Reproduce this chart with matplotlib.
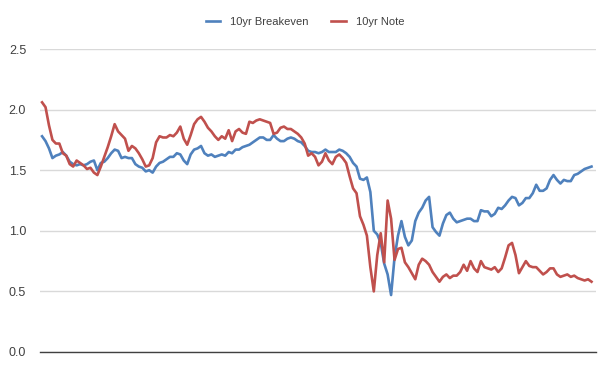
import matplotlib
matplotlib.use("Agg")
import matplotlib.pyplot as plt

series_names = ["10yr Breakeven", "10yr Note"]

breakeven = [1.78, 1.74, 1.68, 1.60, 1.62, 1.63, 1.65, 1.62, 1.57, 1.55,
             1.54, 1.55, 1.54, 1.55, 1.57, 1.58, 1.50, 1.56, 1.57, 1.60,
             1.64, 1.67, 1.66, 1.60, 1.61, 1.60, 1.60, 1.55, 1.53, 1.52,
             1.49, 1.50, 1.48, 1.53, 1.56, 1.57, 1.59, 1.61, 1.61, 1.64,
             1.63, 1.58, 1.55, 1.63, 1.67, 1.68, 1.70, 1.64, 1.62, 1.63,
             1.61, 1.62, 1.63, 1.62, 1.65, 1.64, 1.67, 1.67, 1.69, 1.70,
             1.71, 1.73, 1.75, 1.77, 1.77, 1.75, 1.75, 1.79, 1.76, 1.74,
             1.74, 1.76, 1.77, 1.76, 1.74, 1.73, 1.70, 1.66, 1.65, 1.65,
             1.64, 1.65, 1.67, 1.65, 1.65, 1.65, 1.67, 1.66, 1.64, 1.61,
             1.56, 1.53, 1.43, 1.42, 1.44, 1.32, 1.00, 0.97, 0.90, 0.73,
             0.64, 0.47, 0.78, 0.96, 1.08, 0.95, 0.88, 0.92, 1.08, 1.15,
             1.19, 1.25, 1.28, 1.03, 0.99, 0.96, 1.06, 1.13, 1.15, 1.10,
             1.07, 1.08, 1.09, 1.10, 1.10, 1.08, 1.08, 1.17, 1.16, 1.16,
             1.12, 1.14, 1.19, 1.18, 1.21, 1.25, 1.28, 1.27, 1.21, 1.23,
             1.27, 1.27, 1.31, 1.38, 1.33, 1.33, 1.35, 1.42, 1.46, 1.42,
             1.39, 1.42, 1.41, 1.41, 1.46, 1.47, 1.49, 1.51, 1.52, 1.53]

note = [2.06, 2.02, 1.87, 1.75, 1.72, 1.72, 1.64, 1.62, 1.55, 1.53,
        1.58, 1.56, 1.54, 1.51, 1.52, 1.48, 1.46, 1.53, 1.61, 1.69,
        1.78, 1.88, 1.82, 1.79, 1.76, 1.66, 1.70, 1.68, 1.64, 1.59,
        1.53, 1.54, 1.60, 1.73, 1.78, 1.77, 1.77, 1.79, 1.78, 1.81,
        1.86, 1.76, 1.71, 1.79, 1.88, 1.92, 1.94, 1.90, 1.85, 1.82,
        1.78, 1.75, 1.78, 1.76, 1.83, 1.74, 1.82, 1.84, 1.81, 1.80,
        1.90, 1.89, 1.91, 1.92, 1.91, 1.90, 1.89, 1.80, 1.81, 1.85,
        1.86, 1.84, 1.84, 1.82, 1.80, 1.77, 1.72, 1.62, 1.64, 1.61,
        1.54, 1.57, 1.64, 1.58, 1.55, 1.61, 1.63, 1.60, 1.56, 1.45,
        1.35, 1.31, 1.12, 1.05, 0.96, 0.70, 0.50, 0.80, 0.98, 0.74,
        1.25, 1.10, 0.76, 0.85, 0.86, 0.74, 0.70, 0.65, 0.60, 0.72,
        0.77, 0.75, 0.72, 0.66, 0.62, 0.58, 0.62, 0.64, 0.61, 0.63,
        0.63, 0.66, 0.72, 0.67, 0.75, 0.69, 0.66, 0.75, 0.70, 0.69,
        0.68, 0.70, 0.66, 0.69, 0.78, 0.88, 0.90, 0.80, 0.65, 0.70,
        0.75, 0.71, 0.70, 0.70, 0.67, 0.64, 0.66, 0.69, 0.69, 0.64,
        0.62, 0.63, 0.64, 0.62, 0.63, 0.61, 0.60, 0.59, 0.60, 0.58]

y_ticks = [0.0, 0.5, 1.0, 1.5, 2.0, 2.5]
y_tick_labels = ["0.0", "0.5", "1.0", "1.5", "2.0", "2.5"]

plt.rcParams['font.family'] = ['Liberation Sans', 'DejaVu Sans']

fig = plt.figure(figsize=(6.1, 3.7), dpi=100)
ax = fig.add_axes([40 / 610, 1 - 352 / 370, 556 / 610, (352 - 49) / 370])

x = list(range(len(breakeven)))
ax.plot(x, breakeven, color="#4F81BD", lw=1.9, label=series_names[0],
        solid_joinstyle="round", zorder=3)
ax.plot(x, note, color="#C0504D", lw=1.9, label=series_names[1],
        solid_joinstyle="round", zorder=3)

ax.set_ylim(0, 2.5)
ax.set_xlim(-0.6, len(breakeven) - 1 + 1.3)
ax.set_yticks(y_ticks)
ax.set_yticklabels(y_tick_labels, fontsize=9, color="#404040")
ax.set_xticks([])
ax.tick_params(axis="y", length=0, pad=10)
ax.yaxis.grid(True, color="#D9D9D9", lw=1.0)
ax.set_axisbelow(True)
for s in ["top", "right", "left"]:
    ax.spines[s].set_visible(False)
ax.spines["bottom"].set_color("#404040")
ax.spines["bottom"].set_linewidth(1.0)
ax.spines["bottom"].set_zorder(4)

fig.legend(loc="center", bbox_to_anchor=(305 / 610, 1 - 22 / 370), ncol=2,
           frameon=False, fontsize=8, handlelength=1.3, handletextpad=0.9,
           columnspacing=2.0, labelcolor="#404040")

fig.savefig("out.png", dpi=100)
